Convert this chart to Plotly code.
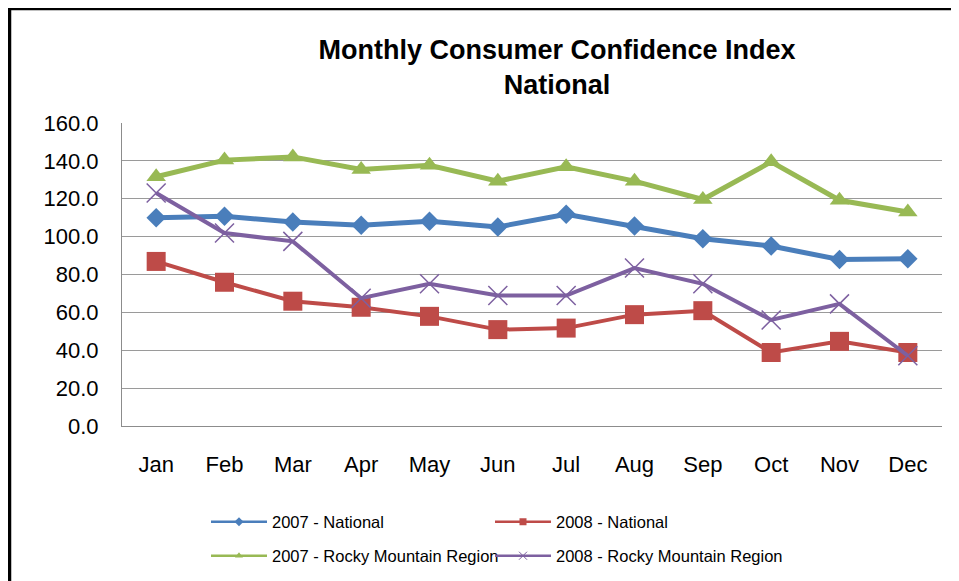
import plotly.graph_objects as go

months = ["Jan", "Feb", "Mar", "Apr", "May", "Jun", "Jul", "Aug", "Sep", "Oct", "Nov", "Dec"]
national_2007 = [110.0, 110.7, 107.7, 106.0, 108.1, 105.1, 111.8, 105.6, 98.9, 95.0, 87.9, 88.3]
national_2008 = [86.9, 75.9, 65.9, 62.7, 57.9, 50.9, 51.7, 58.8, 60.9, 38.8, 44.7, 38.8]
rocky_2007 = [131.6, 140.4, 142.1, 135.5, 137.7, 129.3, 136.9, 129.3, 119.6, 139.5, 119.2, 113.0]
rocky_2008 = [123.0, 101.9, 97.5, 67.5, 75.1, 68.9, 68.9, 83.4, 75.1, 56.0, 64.5, 37.1]
y_ticks = [0, 20, 40, 60, 80, 100, 120, 140, 160]

series = [
    ("2007 - National", national_2007, "#4A7EBB", "diamond", 15, 5),
    ("2008 - National", national_2008, "#BE4B48", "square", 19, 4),
    ("2007 - Rocky Mountain Region", rocky_2007, "#98B954", "triangle-up", 17, 5),
    ("2008 - Rocky Mountain Region", rocky_2008, "#7D60A0", "x-thin-open", 19, 4),
]
# legend slot (left edge of line, row centre) in page pixels
legend_spots = [(206, 522), (490, 522), (206, 556), (490, 556)]

# the page has an 8px body margin, so the figure starts 8px in from the corner
OFF = 8
W, H = 959 - OFF, 581 - OFF
L, R, T, B = 122 - OFF, W - (942 - OFF), 123 - OFF, H - (426 - OFF)
pw, ph = W - L - R, H - T - B


def px_x(v):
    return (v - OFF - L) / pw


def px_y(v):
    return (H - B - (v - OFF)) / ph


fig = go.Figure()
legends = {}
for i, (name, vals, color, symbol, size, width) in enumerate(series):
    if symbol == "x-thin-open":
        marker = dict(symbol=symbol, size=size, line=dict(color="#A89CC0", width=1.5))
        leg_marker = dict(symbol=symbol, size=8, line=dict(color="#A89CC0", width=1))
    else:
        marker = dict(symbol=symbol, size=size, color=color, line=dict(width=0))
        leg_marker = dict(symbol=symbol, size=7, color=color, line=dict(width=0))
    fig.add_trace(go.Scatter(x=months, y=vals, mode="lines+markers", name=name,
                             line=dict(color=color, width=width), marker=marker,
                             showlegend=False))
    leg = "legend" if i == 0 else f"legend{i + 1}"
    # legend-only entry with the small Excel-style marker
    fig.add_trace(go.Scatter(x=[None], y=[None], mode="lines+markers", name=name,
                             line=dict(color=color, width=2.5), marker=leg_marker,
                             legend=leg))
    lx, ly = legend_spots[i]
    legends[leg] = dict(x=px_x(lx), y=px_y(ly), xanchor="left", yanchor="middle",
                        orientation="h", font=dict(size=16.5), itemwidth=56,
                        bgcolor="rgba(0,0,0,0)")

fig.update_layout(
    width=W, height=H,
    margin=dict(l=L, r=R, t=T, b=B, autoexpand=False),
    paper_bgcolor="white", plot_bgcolor="white",
    font=dict(family="Arial, Liberation Sans, sans-serif", color="black"),
    title=dict(text="<b>Monthly Consumer Confidence Index<br>National</b>",
               font=dict(size=27, color="black"),
               xref="container", x=(557 - OFF) / W, xanchor="center",
               yref="container", y=1 - 51 / H, yanchor="top"),
    xaxis=dict(type="category", range=[-0.5, 11.5], showgrid=False,
               showline=True, linecolor="#8C8C8C", linewidth=1,
               tickfont=dict(size=22), ticklabelstandoff=19),
    yaxis=dict(range=[0, 160], tickvals=y_ticks, ticktext=[f"{v:.1f}" for v in y_ticks],
               showgrid=True, gridcolor="#9A9A9A", gridwidth=1, zeroline=False,
               showline=True, linecolor="#8C8C8C", linewidth=1,
               tickfont=dict(size=22), ticklabelstandoff=18),
    shapes=[dict(type="rect", xref="paper", yref="paper",
                 x0=px_x(9.5), x1=px_x(1010), y0=px_y(8.5), y1=px_y(620),
                 line=dict(color="black", width=3.5))],
    **legends,
)

fig.write_html("out.html")
